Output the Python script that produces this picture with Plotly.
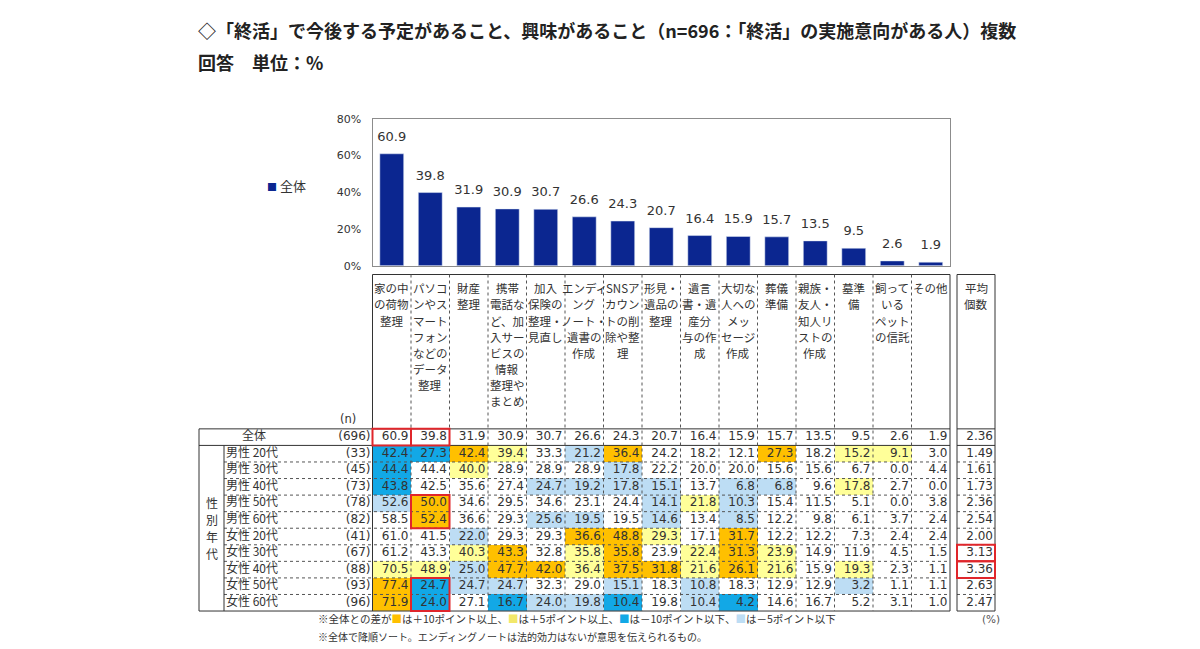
import plotly.graph_objects as go

W, H = 1200, 649

# ---------------- data ----------------
categories = ["家の中の荷物整理", "パソコンやスマートフォンなどのデータ整理", "財産整理",
              "携帯電話など、加入サービスの情報整理やまとめ", "加入保険の整理・見直し",
              "エンディングノート・遺書の作成", "SNSアカウントの削除や整理", "形見・遺品の整理",
              "遺言書・遺産分与の作成", "大切な人へのメッセージ作成", "葬儀準備",
              "親族・友人・知人リストの作成", "墓準備", "飼っているペットの信託", "その他"]

header_labels = [
    ["家の中", "の荷物", "整理"],
    ["パソコ", "ンやス", "マート", "フォン", "などの", "データ", "整理"],
    ["財産", "整理"],
    ["携帯", "電話な", "ど、加", "入サー", "ビスの", "情報", "整理や", "まとめ"],
    ["加入", "保険の", "整理・", "見直し"],
    ["エンディ", "ング", "ノート・", "遺書の", "作成"],
    ["SNSア", "カウン", "トの削", "除や整", "理"],
    ["形見・", "遺品の", "整理"],
    ["遺言", "書・遺", "産分", "与の作", "成"],
    ["大切な", "人への", "メッ", "セージ", "作成"],
    ["葬儀", "準備"],
    ["親族・", "友人・", "知人リ", "ストの", "作成"],
    ["墓準", "備"],
    ["飼って", "いる", "ペット", "の信託"],
    ["その他"],
]
avg_header = ["平均", "個数"]

total_label = "全体"
total_n = 696
total_values = [60.9, 39.8, 31.9, 30.9, 30.7, 26.6, 24.3, 20.7, 16.4, 15.9, 15.7, 13.5, 9.5, 2.6, 1.9]
total_avg = 2.36

group_title = ["性", "別", "年", "代"]
group_labels = ["男性 20代", "男性 30代", "男性 40代", "男性 50代", "男性 60代",
                "女性 20代", "女性 30代", "女性 40代", "女性 50代", "女性 60代"]
group_n = [33, 45, 73, 78, 82, 41, 67, 88, 93, 96]
group_avg = [1.49, 1.61, 1.73, 2.36, 2.54, 2.00, 3.13, 3.36, 2.63, 2.47]
group_values = [
    [42.4, 27.3, 42.4, 39.4, 33.3, 21.2, 36.4, 24.2, 18.2, 12.1, 27.3, 18.2, 15.2, 9.1, 3.0],
    [44.4, 44.4, 40.0, 28.9, 28.9, 28.9, 17.8, 22.2, 20.0, 20.0, 15.6, 15.6, 6.7, 0.0, 4.4],
    [43.8, 42.5, 35.6, 27.4, 24.7, 19.2, 17.8, 15.1, 13.7, 6.8, 6.8, 9.6, 17.8, 2.7, 0.0],
    [52.6, 50.0, 34.6, 29.5, 34.6, 23.1, 24.4, 14.1, 21.8, 10.3, 15.4, 11.5, 5.1, 0.0, 3.8],
    [58.5, 52.4, 36.6, 29.3, 25.6, 19.5, 19.5, 14.6, 13.4, 8.5, 12.2, 9.8, 6.1, 3.7, 2.4],
    [61.0, 41.5, 22.0, 29.3, 29.3, 36.6, 48.8, 29.3, 17.1, 31.7, 12.2, 12.2, 7.3, 2.4, 2.4],
    [61.2, 43.3, 40.3, 43.3, 32.8, 35.8, 35.8, 23.9, 22.4, 31.3, 23.9, 14.9, 11.9, 4.5, 1.5],
    [70.5, 48.9, 25.0, 47.7, 42.0, 36.4, 37.5, 31.8, 21.6, 26.1, 21.6, 15.9, 19.3, 2.3, 1.1],
    [77.4, 24.7, 24.7, 24.7, 32.3, 29.0, 15.1, 18.3, 10.8, 18.3, 12.9, 12.9, 3.2, 1.1, 1.1],
    [71.9, 24.0, 27.1, 16.7, 24.0, 19.8, 10.4, 19.8, 10.4, 4.2, 14.6, 16.7, 5.2, 3.1, 1.0],
]

# highlighted (red framed) cells: (first row, last row, column) ; rows: 0 = 全体
highlight_cells = [(0, 0, 0), (0, 0, 1), (4, 5, 1), (9, 10, 1)]
highlight_avg_rows = [7, 8]

title_line1 = "◇「終活」で今後する予定があること、興味があること（n=696：「終活」の実施意向がある人）複数"
title_line2 = "回答　単位：%"
legend_label = "全体"

# ---------------- styles ----------------
JP = "Noto Sans CJK JP"
NUM = "DejaVu Sans"
TXT = "#333333"
BAR = "#0B2690"
C_UP10 = "#FFC000"
C_UP5 = "#FFFF99"
C_DN10 = "#12A8E6"
C_DN5 = "#BDDDF4"
RED = "#E0262B"

footnote1 = ("※全体との差が<span style='color:%s'>■</span>は＋10ポイント以上、"
             "<span style='color:%s'>■</span>は＋5ポイント以上、"
             "<span style='color:%s'>■</span>は－10ポイント以下、"
             "<span style='color:%s'>■</span>は－5ポイント以下") % (C_UP10, "#F2E86A", C_DN10, C_DN5)
footnote2 = "※全体で降順ソート。エンディングノートは法的効力はないが意思を伝えられるもの。"

# ---------------- geometry (pixels) ----------------
X0 = 372.5        # left edge of first data column
COL_W = 38.5
NCOL = len(categories)
X1 = X0 + NCOL * COL_W
T = 431.5         # top of 全体 row
ROW_H = 16.9
NROW = 1 + len(group_labels)
B = T + NROW * ROW_H
HDR_TOP = 274
HDR_TXT0 = 288
HDR_LINE = 16.5
AVG_L, AVG_R = 957, 995
LEFT_L = 199
LEFT_SPLIT = 224
BAR_TOP, BAR_BOT = 115, 265


def px(x):
    return x / W


def py(y):
    return 1 - y / H


def xi(p):
    return (p - X0) / COL_W - 0.5


def yi(p):
    return (p - T) / ROW_H - 0.5


def cat(v, t):
    d = round(v - t, 1)
    if d >= 10:
        return 1
    if d >= 5:
        return 2
    if d <= -10:
        return 3
    if d <= -5:
        return 4
    return 0


fig = go.Figure()

# ---------------- bar chart ----------------
fig.add_trace(go.Bar(
    x=categories, y=total_values, marker_color=BAR, width=0.62,
    hoverinfo="skip", showlegend=False, xaxis="x", yaxis="y"))
# value labels above the bars (transparent marker keeps a small gap)
fig.add_trace(go.Scatter(
    x=categories, y=total_values, mode="markers+text",
    marker=dict(size=14, color="rgba(0,0,0,0)"),
    text=[f"{v:.1f}" for v in total_values], textposition="top center",
    textfont=dict(family=NUM, size=13, color=TXT), cliponaxis=False,
    hoverinfo="skip", showlegend=False, xaxis="x", yaxis="y"))

# ---------------- table cells ----------------
rows_values = [total_values] + group_values
z = [[0 if r == 0 else cat(v, t) for v, t in zip(row, total_values)] for r, row in enumerate(rows_values)]
colorscale = [[0.0, "rgba(255,255,255,0)"], [0.2, "rgba(255,255,255,0)"],
              [0.2, C_UP10], [0.4, C_UP10], [0.4, C_UP5], [0.6, C_UP5],
              [0.6, C_DN10], [0.8, C_DN10], [0.8, C_DN5], [1.0, C_DN5]]
fig.add_trace(go.Heatmap(
    z=z, x=list(range(NCOL)), y=list(range(NROW)), zmin=-0.5, zmax=4.5,
    colorscale=colorscale, showscale=False, hoverinfo="skip", xaxis="x2", yaxis="y2"))

# value texts (right aligned in cells)
tx, ty, tt = [], [], []
for r, row in enumerate(rows_values):
    for c, v in enumerate(row):
        tx.append(c + 0.5 - 2.5 / COL_W)
        ty.append(r)
        tt.append(f"{v:.1f}")
fig.add_trace(go.Scatter(x=tx, y=ty, text=tt, mode="text", textposition="middle left",
                         textfont=dict(family=NUM, size=12, color=TXT), cliponaxis=False,
                         hoverinfo="skip", showlegend=False, xaxis="x2", yaxis="y2"))

# average column
avgs = [total_avg] + group_avg
fig.add_trace(go.Scatter(x=[xi(AVG_R - 2)] * NROW, y=list(range(NROW)),
                         text=[f"{v:.2f}" for v in avgs], mode="text", textposition="middle left",
                         textfont=dict(family=NUM, size=12, color=TXT), cliponaxis=False,
                         hoverinfo="skip", showlegend=False, xaxis="x2", yaxis="y2"))

# n column
ns = [total_n] + group_n
fig.add_trace(go.Scatter(x=[xi(X0 - 2)] * NROW, y=list(range(NROW)),
                         text=[f"({n})" for n in ns], mode="text", textposition="middle left",
                         textfont=dict(family=NUM, size=12, color=TXT), cliponaxis=False,
                         hoverinfo="skip", showlegend=False, xaxis="x2", yaxis="y2"))

# row labels
fig.add_trace(go.Scatter(x=[xi(LEFT_SPLIT + 2)] * len(group_labels), y=list(range(1, NROW)),
                         text=group_labels, mode="text", textposition="middle right",
                         textfont=dict(family=JP, size=12, color=TXT), cliponaxis=False,
                         hoverinfo="skip", showlegend=False, xaxis="x2", yaxis="y2"))
fig.add_trace(go.Scatter(x=[xi(254)], y=[0], text=[total_label], mode="text", textposition="middle center",
                         textfont=dict(family=JP, size=12, color=TXT), cliponaxis=False,
                         hoverinfo="skip", showlegend=False, xaxis="x2", yaxis="y2"))

annotations = []
# group title (vertical)
mid = (1 + NROW - 1) / 2
for k, ch in enumerate(group_title):
    annotations.append(dict(x=px((LEFT_L + LEFT_SPLIT) / 2), xref="paper",
                            y=py(T + (mid + 0.5) * ROW_H + (k - 1.5) * 17.3), yref="paper",
                            text=ch, showarrow=False, xanchor="center", yanchor="middle",
                            font=dict(family=JP, size=12, color=TXT)))

# header labels (one annotation per line)
for c, lines in enumerate(header_labels):
    for k, line in enumerate(lines):
        annotations.append(dict(x=c, xref="x2", y=py(HDR_TXT0 + k * HDR_LINE), yref="paper", text=line,
                                showarrow=False, xanchor="center", yanchor="middle",
                                font=dict(family=JP, size=11.5, color=TXT)))
for k, line in enumerate(avg_header):
    annotations.append(dict(x=px((AVG_L + AVG_R) / 2), xref="paper", y=py(HDR_TXT0 + k * HDR_LINE),
                            yref="paper", text=line, showarrow=False, xanchor="center", yanchor="middle",
                            font=dict(family=JP, size=11.5, color=TXT)))
annotations.append(dict(x=px(348), xref="paper", y=py(T - 10), yref="paper", text="(n)", showarrow=False,
                        xanchor="center", yanchor="middle", font=dict(family=NUM, size=11.5, color=TXT)))

# titles
annotations.append(dict(x=px(196), xref="paper", y=py(24), yref="paper", text="<b>" + title_line1 + "</b>",
                        showarrow=False, xanchor="left", yanchor="middle",
                        font=dict(family=JP, size=18, color="#222222")))
annotations.append(dict(x=px(196), xref="paper", y=py(57), yref="paper", text="<b>" + title_line2 + "</b>",
                        showarrow=False, xanchor="left", yanchor="middle",
                        font=dict(family=JP, size=18, color="#222222")))
# legend
annotations.append(dict(x=px(265), xref="paper", y=py(183), yref="paper",
                        text="<span style='color:%s;font-size:10px'>■</span> %s" % (BAR, legend_label),
                        showarrow=False, xanchor="left", yanchor="middle",
                        font=dict(family=JP, size=13, color=TXT)))
# footnotes
annotations.append(dict(x=px(316), xref="paper", y=py(B + 8), yref="paper", text=footnote1,
                        showarrow=False, xanchor="left", yanchor="middle",
                        font=dict(family=JP, size=10.5, color=TXT)))
annotations.append(dict(x=px(316), xref="paper", y=py(B + 26), yref="paper", text=footnote2,
                        showarrow=False, xanchor="left", yanchor="middle",
                        font=dict(family=JP, size=10, color=TXT)))
annotations.append(dict(x=px(1002), xref="paper", y=py(B + 8), yref="paper", text="(%)",
                        showarrow=False, xanchor="right", yanchor="middle",
                        font=dict(family=NUM, size=10.5, color="#555555")))

# ---------------- grid lines ----------------
shapes = []
SOLID = dict(color="#333333", width=1)
DOT = dict(color="#555555", width=1, dash="dot")


def hline(p_y, xa, xb, line):
    shapes.append(dict(type="line", xref="x2", yref="y2", x0=xi(xa), x1=xi(xb),
                       y0=yi(p_y), y1=yi(p_y), line=line, layer="above"))


def vline(p_x, ya, yb, line):
    shapes.append(dict(type="line", xref="x2", yref="y2", x0=xi(p_x), x1=xi(p_x),
                       y0=yi(ya), y1=yi(yb), line=line, layer="above"))


# header top
hline(HDR_TOP, X0, X1, SOLID)
hline(HDR_TOP, AVG_L, AVG_R, SOLID)
# row lines
for r in range(NROW + 1):
    yy = T + r * ROW_H
    if r in (0, 1, NROW):
        hline(yy, LEFT_L, X1, SOLID)
        hline(yy, AVG_L, AVG_R, SOLID)
    else:
        hline(yy, LEFT_SPLIT, X1, DOT)
        hline(yy, AVG_L, AVG_R, DOT)
# column lines
vline(X0, HDR_TOP, B, SOLID)
for c in range(1, NCOL):
    vline(X0 + c * COL_W, HDR_TOP, B, DOT)
vline(X1, HDR_TOP, B, SOLID)
vline(AVG_L, HDR_TOP, B, SOLID)
vline(AVG_R, HDR_TOP, B, SOLID)
vline(LEFT_L, T, B, SOLID)
vline(LEFT_SPLIT, T + ROW_H, B, SOLID)

# red highlight frames
for r0, r1, c in highlight_cells:
    shapes.append(dict(type="rect", xref="x2", yref="y2", x0=c - 0.5, x1=c + 0.5,
                       y0=r0 - 0.5, y1=r1 + 0.5, line=dict(color=RED, width=2), layer="above"))
for r in highlight_avg_rows:
    shapes.append(dict(type="rect", xref="x2", yref="y2", x0=xi(AVG_L), x1=xi(AVG_R),
                       y0=r - 0.5, y1=r + 0.5, line=dict(color=RED, width=2), layer="above"))

fig.update_layout(
    width=W, height=H, margin=dict(l=0, r=0, t=0, b=0),
    paper_bgcolor="white", plot_bgcolor="rgba(0,0,0,0)",
    showlegend=False, bargap=0.38,
    xaxis=dict(domain=[px(X0), px(X1)], range=[-0.5, NCOL - 0.5], showticklabels=False, ticks="",
               showgrid=False, showline=True, mirror=True, linecolor="#8C8C8C", linewidth=1,
               fixedrange=True),
    yaxis=dict(domain=[py(BAR_BOT), py(BAR_TOP)], range=[0, 80], dtick=20, ticksuffix="%",
               showgrid=False, zeroline=False, showline=True, mirror=True, linecolor="#8C8C8C",
               linewidth=1, ticks="", ticklabelstandoff=8,
               tickfont=dict(family=NUM, size=11, color=TXT), fixedrange=True),
    xaxis2=dict(domain=[0, 1], range=[xi(0), xi(W)], visible=False, fixedrange=True),
    yaxis2=dict(domain=[0, 1], range=[yi(H), yi(0)], visible=False, fixedrange=True),
    annotations=annotations, shapes=shapes,
)

fig.write_html("out.html", config={"displayModeBar": False},
               post_script="document.body.style.margin='0';document.body.style.overflow='hidden';")
